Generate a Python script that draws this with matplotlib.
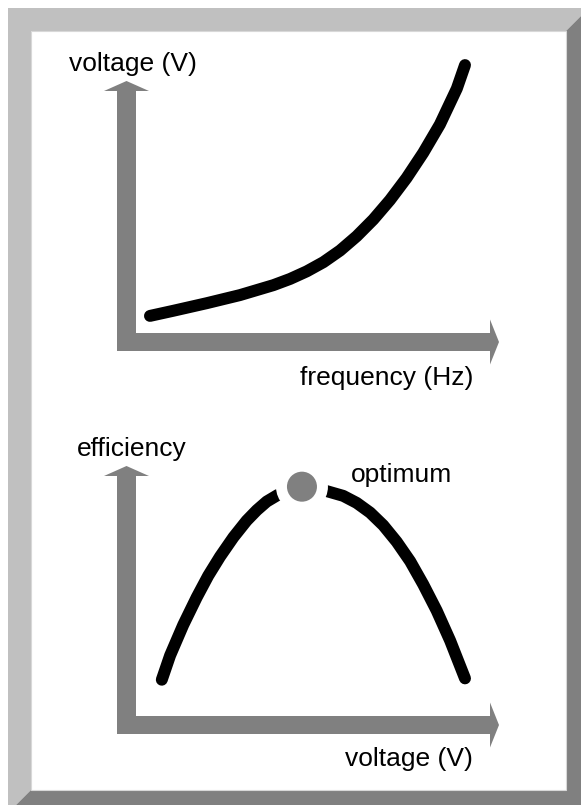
import matplotlib.pyplot as plt
from matplotlib.patches import Polygon, Rectangle

# data (arbitrary units)
freq = [1.03, 1.76, 2.80, 3.84, 4.89, 5.41, 5.93, 6.45, 6.97, 7.49, 8.01, 8.53,
        9.05, 9.57, 10.09, 10.62, 10.875]
volt = [1.30, 1.49, 1.77, 2.07, 2.44, 2.67, 2.95, 3.29, 3.72, 4.25, 4.87, 5.59,
        6.41, 7.34, 8.39, 9.72, 10.59]

v_in = [1.40, 1.66, 2.07, 2.49, 2.85, 3.22, 3.64, 4.05, 4.37, 4.68, 5.02, 5.88,
        6.60, 7.07, 7.49, 7.91, 8.32, 8.74, 9.16, 9.57, 9.99, 10.41, 10.875]
eff = [2.01, 2.91, 4.04, 5.06, 5.86, 6.57, 7.29, 7.90, 8.29, 8.61, 8.85, 9.22,
       8.98, 8.82, 8.56, 8.20, 7.73, 7.12, 6.40, 5.54, 4.57, 3.46, 2.06]
opt_v, opt_eff = 5.78, 9.16

W, H = 581, 805
fig = plt.figure(figsize=(W / 100, H / 100), dpi=100)
plt.rcParams['font.family'] = ['Liberation Sans', 'DejaVu Sans']

# background axes in pixel coordinates (frame, arrows, labels)
bg = fig.add_axes([0, 0, 1, 1])
bg.set_xlim(0, W)
bg.set_ylim(H, 0)
bg.axis('off')

light, dark, grey = '#c0c0c0', '#808080', '#808080'
bg.add_patch(Polygon([(8, 8), (581, 8), (581, 16), (566, 31), (31, 31), (31, 790),
                      (16, 805), (8, 805)], closed=True, fc=light, ec='none'))
bg.add_patch(Polygon([(581, 16), (581, 805), (16, 805), (31, 790), (566, 790), (566, 31)],
                     closed=True, fc=dark, ec='none'))
bg.add_patch(Rectangle((31, 31), 535, 759, fc='white', ec='#d8d8d8', lw=0.8))


def axis_arrows(y_bottom, y_tip):
    # vertical arrow
    bg.add_patch(Polygon([(117, y_bottom), (117, y_tip + 10), (104, y_tip + 10), (126.5, y_tip),
                          (149, y_tip + 10), (136, y_tip + 10), (136, y_bottom)],
                         closed=True, fc=grey, ec='none'))
    # horizontal arrow
    yc = y_bottom - 9
    bg.add_patch(Polygon([(117, y_bottom), (117, y_bottom - 18), (490, y_bottom - 18),
                          (490, yc - 22.5), (499, yc), (490, yc + 22.5), (490, y_bottom)],
                         closed=True, fc=grey, ec='none'))


axis_arrows(351, 81)
axis_arrows(734, 466)

fs = 19
bg.text(69, 71, 'voltage (V)', fontsize=fs, ha='left', va='baseline')
bg.text(300, 385, 'frequency (Hz)', fontsize=fs, ha='left', va='baseline')
bg.text(77, 456, 'efficiency', fontsize=fs, ha='left', va='baseline')
bg.text(351, 482, 'optimum', fontsize=fs, ha='left', va='baseline')
bg.text(473, 766, 'voltage (V)', fontsize=fs, ha='right', va='baseline')

# data axes
axw, axh = 380 / W, 270 / H
ax1 = fig.add_axes([117 / W, (H - 351) / H, axw, axh])
ax2 = fig.add_axes([117 / W, (H - 734) / H, axw, axh])
for ax in (ax1, ax2):
    ax.set_xlim(0, 11.875)
    ax.set_ylim(0, 10)
    ax.axis('off')
    ax.patch.set_alpha(0)

ax1.plot(freq, volt, color='black', lw=8.6, solid_capstyle='round',
         solid_joinstyle='round', clip_on=False)

ax2.plot(v_in, eff, color='black', lw=8.6, solid_capstyle='round',
         solid_joinstyle='round', clip_on=False, zorder=2)
ax2.scatter([opt_v], [opt_eff], s=1400, color='white', edgecolors='none', zorder=3, clip_on=False)
ax2.scatter([opt_v], [opt_eff], s=467, color=grey, edgecolors='none', zorder=4, clip_on=False)

plt.savefig('out.png', dpi=100)
